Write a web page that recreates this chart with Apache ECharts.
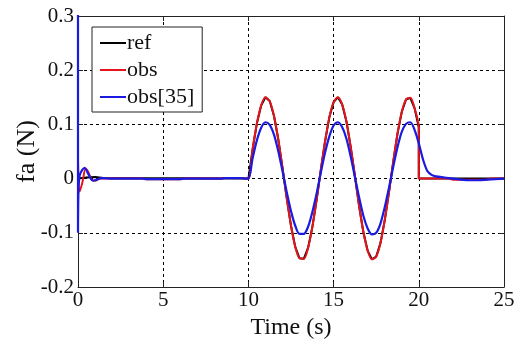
<!DOCTYPE html>
<html>
<head>
<meta charset="utf-8">
<script src="https://cdn.jsdelivr.net/npm/echarts@6/dist/echarts.min.js"></script>
<style>html,body{margin:0;padding:0;background:#fff;}#c{width:524px;height:340px;}</style>
</head>
<body>
<div id="c"></div>
<script>
// Tick labels
var xTicks = [0, 5, 10, 15, 20, 25];
var yTicks = [-0.2, -0.1, 0, 0.1, 0.2, 0.3];

// Series names
var seriesNames = ['ref', 'obs', 'obs[35]'];

// Oscillation section time samples (10 s .. 20 s, step 0.25 s)
var tOsc = [10,10.25,10.5,10.75,11,11.25,11.5,11.75,12,12.25,12.5,12.75,13,13.25,13.5,13.75,14,14.25,14.5,14.75,15,15.25,15.5,15.75,16,16.25,16.5,16.75,17,17.25,17.5,17.75,18,18.25,18.5,18.75,19,19.25,19.5,19.75,20];
var obsOsc = [0,0.055,0.102,0.135,0.150,0.143,0.116,0.073,0.020,-0.036,-0.087,-0.126,-0.147,-0.148,-0.128,-0.090,-0.040,0.016,0.069,0.113,0.141,0.150,0.137,0.106,0.059,0.005,-0.051,-0.099,-0.133,-0.149,-0.144,-0.119,-0.077,-0.025,0.031,0.083,0.123,0.146,0.149,0.130,0.094];
var obs35Osc = [0,0.038,0.071,0.094,0.104,0.099,0.081,0.051,0.014,-0.025,-0.060,-0.087,-0.102,-0.102,-0.089,-0.062,-0.028,0.011,0.048,0.078,0.098,0.104,0.095,0.074,0.041,0.003,-0.035,-0.069,-0.092,-0.103,-0.100,-0.083,-0.053,-0.017,0.022,0.058,0.086,0.101,0.104,0.090,0.065];

// Start transient and tail (time, value)
var refStartT = [0, 0.5, 1.0, 1.5, 10];
var refStartV = [0, 0.002, 0.003, 0.001, 0];
var refTailT = [20, 20, 25];
var refTailV = [0.094, 0, 0];

var obsStartT = [0, 0.1, 0.25, 0.45, 0.6, 0.8, 1.0, 1.3, 3.8, 4.0, 6.0, 6.2, 8.4, 8.6, 9.6, 9.8];
var obsStartV = [0.034, -0.024, -0.008, 0.018, 0.012, -0.002, -0.004, 0, 0, -0.001, -0.001, 0, 0, 0.001, 0.001, 0];
var obsTailT = [20, 21, 21.8, 22, 24, 24.2, 25];
var obsTailV = [0, 0, 0, -0.002, -0.002, 0, 0];

var obs35StartT = [0, 0, 0.03, 0.1, 0.25, 0.4, 0.55, 0.75, 0.9, 1.1, 1.4, 2.0, 3.8, 4.0, 6.0, 6.2, 8.4, 8.6, 9.6, 9.8];
var obs35StartV = [0.4, -0.1, -0.02, 0.006, 0.016, 0.02, 0.012, 0.0, -0.004, -0.002, 0.001, 0, 0, -0.001, -0.001, 0, 0, 0.001, 0.001, 0];
var obs35TailT = [20.25, 20.5, 20.75, 21, 21.5, 22, 22.5, 23, 23.5, 24, 24.5, 25];
var obs35TailV = [0.035, 0.014, 0.007, 0.004, 0.002, 0.0, -0.002, -0.003, -0.003, -0.002, -0.001, 0];

function pairs(ts, vs) { return ts.map(function (t, i) { return [t, vs[i]]; }); }
var refData = pairs(refStartT, refStartV).concat(pairs(tOsc, obsOsc)).concat(pairs(refTailT, refTailV));
var obsData = pairs(obsStartT, obsStartV).concat(pairs(tOsc, obsOsc)).concat(pairs(obsTailT, obsTailV));
var obs35Data = pairs(obs35StartT, obs35StartV).concat(pairs(tOsc, obs35Osc)).concat(pairs(obs35TailT, obs35TailV));

var FONT = '"Liberation Serif", "Times New Roman", serif';
var chart = echarts.init(document.getElementById('c'), null, {renderer: 'canvas'});
var gridLine = {show: true, lineStyle: {color: '#000', width: 1, type: [3, 3]}};
chart.setOption({
  animation: false,
  backgroundColor: '#fff',
  grid: {left: 78, right: 20, top: 16, bottom: 53, containLabel: false, outerBoundsMode: 'none'},
  legend: {
    left: 92, top: 27,
    orient: 'vertical', align: 'left',
    data: seriesNames,
    icon: 'rect', itemWidth: 26, itemHeight: 2, itemGap: 5,
    padding: [5, 8, 4, 8],
    borderColor: '#222', borderWidth: 1, backgroundColor: '#fff',
    textStyle: {fontFamily: FONT, fontSize: 22, color: '#111', padding: [0, 0, 0, -4]}
  },
  xAxis: [{
    type: 'value', min: 0, max: 25, interval: 5,
    name: 'Time (s)', nameLocation: 'middle', nameGap: 23,
    nameTextStyle: {fontFamily: FONT, fontSize: 24, color: '#111'},
    axisLine: {show: true, onZero: false, lineStyle: {color: '#222', width: 1}},
    axisTick: {show: true, inside: true, length: 5, lineStyle: {color: '#222'}},
    axisLabel: {fontFamily: FONT, fontSize: 21, color: '#111', margin: 3,
      formatter: function (v) { var i = xTicks.indexOf(v); return i >= 0 ? String(xTicks[i]) : ''; }},
    splitLine: gridLine
  }, {
    type: 'value', min: 0, max: 25, interval: 5, position: 'top',
    axisLine: {show: true, onZero: false, lineStyle: {color: '#222', width: 1}},
    axisTick: {show: true, inside: true, length: 5, lineStyle: {color: '#222'}},
    axisLabel: {show: false}, splitLine: {show: false}
  }],
  yAxis: [{
    type: 'value', min: -0.2, max: 0.3, interval: 0.1,
    name: 'fa (N)', nameLocation: 'middle', nameGap: 38, nameMoveOverlap: false,
    nameTextStyle: {fontFamily: FONT, fontSize: 26, color: '#111'},
    axisLine: {show: true, onZero: false, lineStyle: {color: '#222', width: 1}},
    axisTick: {show: true, inside: true, length: 5, lineStyle: {color: '#222'}},
    axisLabel: {fontFamily: FONT, fontSize: 21, color: '#111', margin: 4,
      formatter: function (v) {
        var best = null;
        yTicks.forEach(function (t) { if (Math.abs(t - v) < 1e-6) best = t; });
        return best === null ? '' : String(best);
      }},
    splitLine: gridLine
  }, {
    type: 'value', min: -0.2, max: 0.3, interval: 0.1, position: 'right',
    axisLine: {show: true, onZero: false, lineStyle: {color: '#222', width: 1}},
    axisTick: {show: true, inside: true, length: 5, lineStyle: {color: '#222'}},
    axisLabel: {show: false}, splitLine: {show: false}
  }],
  series: [
    {name: seriesNames[0], type: 'line', data: refData, showSymbol: false, smooth: false, clip: true,
     color: '#000', lineStyle: {color: '#000', width: 2}},
    {name: seriesNames[1], type: 'line', data: obsData, showSymbol: false, smooth: 0.3, clip: true,
     color: '#e8141c', lineStyle: {color: '#e8141c', width: 2}},
    {name: seriesNames[2], type: 'line', data: obs35Data, showSymbol: false, smooth: 0.3, clip: true,
     color: '#1a1ae0', lineStyle: {color: '#1a1ae0', width: 2.2}}
  ]
});
</script>
</body>
</html>
